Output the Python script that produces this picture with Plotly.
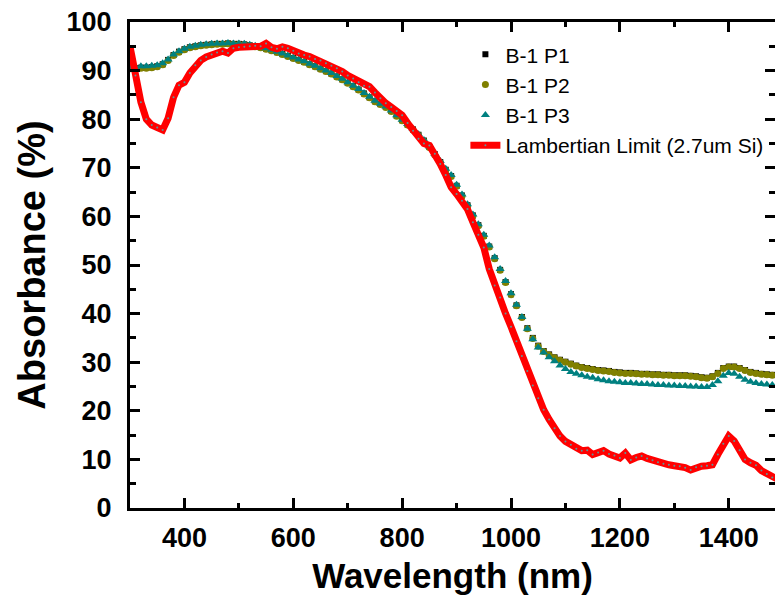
import plotly.graph_objects as go

wavelength = list(range(300, 1501, 10))

p1 = [90.5, 90.5, 90.6, 90.6, 90.7, 90.9, 91.3, 92.2, 93.2, 93.9,
      94.4, 94.8, 95.0, 95.2, 95.3, 95.4, 95.5, 95.5, 95.6, 95.5,
      95.5, 95.4, 95.2, 95.0, 94.8, 94.5, 94.2, 93.8, 93.4, 93.0,
      92.6, 92.2, 91.8, 91.3, 90.9, 90.4, 89.9, 89.4, 88.8, 88.2,
      87.5, 86.8, 86.1, 85.3, 84.5, 83.7, 83.1, 82.5, 81.7, 80.7,
      79.8, 78.9, 77.9, 76.8, 75.6, 74.3, 72.8, 71.2, 69.6, 68.3,
      66.3, 64.3, 62.3, 60.2, 58.2, 56.0, 53.8, 51.4, 49.0, 46.5,
      44.0, 41.7, 39.3, 37.0, 35.0, 33.4, 32.3, 31.6, 31.0, 30.5,
      30.1, 29.7, 29.3, 29.0, 28.8, 28.6, 28.4, 28.3, 28.2, 28.0,
      27.9, 27.8, 27.8, 27.7, 27.6, 27.6, 27.5, 27.5, 27.4, 27.4,
      27.3, 27.3, 27.3, 27.2, 27.1, 26.9, 26.8, 27.1, 27.8, 28.8,
      29.1, 29.1, 28.8, 28.4, 28.0, 27.8, 27.6, 27.5, 27.4, 27.3,
      27.2]

p2 = [90.4, 90.4, 90.5, 90.5, 90.6, 90.8, 91.2, 92.1, 93.1, 93.8,
      94.3, 94.7, 94.9, 95.1, 95.2, 95.3, 95.4, 95.4, 95.5, 95.4,
      95.4, 95.3, 95.1, 94.9, 94.7, 94.4, 94.1, 93.7, 93.3, 92.9,
      92.5, 92.1, 91.7, 91.2, 90.8, 90.3, 89.8, 89.3, 88.7, 88.1,
      87.4, 86.7, 86.0, 85.2, 84.4, 83.6, 83.0, 82.4, 81.6, 80.6,
      79.7, 78.8, 77.8, 76.7, 75.5, 74.2, 72.7, 71.1, 69.5, 68.2,
      66.2, 64.2, 62.2, 60.1, 58.1, 55.9, 53.7, 51.3, 48.9, 46.4,
      43.9, 41.6, 39.2, 36.9, 34.9, 33.3, 32.2, 31.5, 30.9, 30.4,
      30.0, 29.6, 29.2, 28.9, 28.7, 28.5, 28.3, 28.2, 28.1, 27.9,
      27.8, 27.7, 27.7, 27.6, 27.5, 27.5, 27.4, 27.4, 27.3, 27.3,
      27.2, 27.2, 27.2, 27.1, 27.0, 26.8, 26.7, 27.0, 27.7, 28.7,
      29.0, 29.0, 28.7, 28.3, 27.9, 27.7, 27.5, 27.4, 27.3, 27.2,
      27.1]

p3 = [90.8, 90.8, 90.9, 90.9, 91.0, 91.1, 91.5, 92.3, 93.3, 94.0,
      94.5, 94.9, 95.1, 95.3, 95.4, 95.5, 95.6, 95.6, 95.7, 95.6,
      95.6, 95.5, 95.3, 95.1, 94.9, 94.6, 94.3, 93.9, 93.5, 93.1,
      92.7, 92.3, 91.9, 91.4, 91.0, 90.5, 90.0, 89.5, 88.9, 88.3,
      87.6, 86.9, 86.2, 85.4, 84.6, 83.8, 83.2, 82.6, 81.8, 80.8,
      79.9, 79.0, 78.0, 76.9, 75.7, 74.4, 72.9, 71.4, 69.8, 68.5,
      66.5, 64.5, 62.5, 60.4, 58.4, 56.2, 54.0, 51.6, 49.2, 46.7,
      44.2, 41.8, 39.3, 36.9, 34.7, 33.0, 32.0, 31.0, 30.2, 29.3,
      28.6, 28.0, 27.6, 27.3, 27.0, 26.8, 26.5, 26.3, 26.1, 26.0,
      25.9, 25.7, 25.7, 25.6, 25.5, 25.5, 25.4, 25.3, 25.3, 25.2,
      25.2, 25.1, 25.1, 25.0, 25.0, 24.9, 24.9, 25.3, 26.1, 27.2,
      27.8, 27.6, 27.0, 26.4, 26.0, 25.7, 25.5, 25.4, 25.3, 25.3,
      25.2]

lambertian = [95.0, 89.0, 83.5, 80.0, 78.8, 78.3, 77.8, 80.2, 84.5, 87.0,
              87.6, 89.5, 91.1, 92.1, 92.8, 93.3, 93.7, 94.0, 93.6, 94.6,
              94.8, 94.9, 95.0, 95.1, 95.0, 95.6, 94.8, 94.5, 94.9, 94.6,
              94.1, 93.5, 93.2, 92.9, 92.4, 92.1, 91.5, 91.0, 90.5, 89.8,
              89.0, 88.4, 87.6, 86.9, 86.7, 85.5, 84.3, 83.3, 82.5, 81.7,
              80.8, 79.2, 77.6, 76.0, 75.0, 74.6, 72.9, 70.8, 68.5, 66.0,
              64.6, 63.2, 61.5, 58.8, 56.2, 53.6, 49.2, 45.8, 43.3, 40.0,
              37.3, 34.3, 31.3, 28.2, 25.2, 22.6, 20.2, 18.2, 16.4, 14.8,
              13.7, 13.0, 12.2, 11.8, 11.9, 11.0, 11.4, 11.8, 11.1, 10.8,
              10.3, 11.3, 9.9, 10.4, 10.7, 10.2, 9.8, 9.4, 9.1, 8.9,
              8.7, 8.6, 8.3, 7.8, 8.4, 8.6, 8.7, 8.9, 11.0, 13.2,
              14.8, 13.8, 11.9, 10.0, 9.3, 8.8, 7.7, 7.0, 6.3, 5.8,
              5.3]

x_ticks = [400, 600, 800, 1000, 1200, 1400]
y_ticks = [0, 10, 20, 30, 40, 50, 60, 70, 80, 90, 100]

FONT = "Liberation Sans"

fig = go.Figure()
fig.add_trace(go.Scatter(x=wavelength, y=p1, mode="markers", name="B-1 P1",
                         marker=dict(symbol="square", size=6, color="#000000")))
fig.add_trace(go.Scatter(x=wavelength, y=p2, mode="markers", name="B-1 P2",
                         marker=dict(symbol="circle", size=7, color="#808000")))
fig.add_trace(go.Scatter(x=wavelength, y=p3, mode="markers", name="B-1 P3",
                         marker=dict(symbol="triangle-up", size=8, color="#008080")))
fig.add_trace(go.Scatter(x=wavelength, y=lambertian, mode="lines+markers",
                         name="Lambertian Limit (2.7um Si)",
                         line=dict(color="#ff0000", width=7),
                         marker=dict(size=2, color="#5a9a9a")))

axis_common = dict(
    showline=True, linecolor="black", linewidth=3, mirror="ticks",
    ticks="inside", ticklen=10, tickwidth=3, tickcolor="black",
    showgrid=False, zeroline=False, automargin=False,
    tickfont=dict(family=FONT, size=27, color="black", weight="bold"),
)

fig.update_xaxes(range=[300, 1485], tickvals=x_ticks, ticklabelstandoff=4,
                 minor=dict(ticks="inside", ticklen=5, tickwidth=3, dtick=100,
                            tick0=300, tickcolor="black", showgrid=False),
                 title=dict(text="Wavelength (nm)", standoff=12,
                            font=dict(family=FONT, size=35, color="black", weight="bold")),
                 **axis_common)
fig.update_yaxes(range=[0, 100], tickvals=y_ticks, ticklabelstandoff=10,
                 minor=dict(ticks="inside", ticklen=6, tickwidth=3, dtick=5,
                            tick0=0, tickcolor="black", showgrid=False),
                 title=dict(text="Absorbance (%)", standoff=10,
                            font=dict(family=FONT, size=38, color="black", weight="bold")),
                 **axis_common)

fig.update_layout(
    width=775, height=601,
    margin=dict(l=130, r=0, t=22, b=93),
    plot_bgcolor="white", paper_bgcolor="white",
    legend=dict(x=0.52, y=0.975, xanchor="left", yanchor="top",
                bgcolor="rgba(0,0,0,0)", tracegroupgap=0,
                font=dict(family=FONT, size=21, color="black")),
)

fig.write_html("out.html",
               config={"displayModeBar": False},
               post_script="document.body.style.margin='0';document.body.style.overflow='hidden';")
